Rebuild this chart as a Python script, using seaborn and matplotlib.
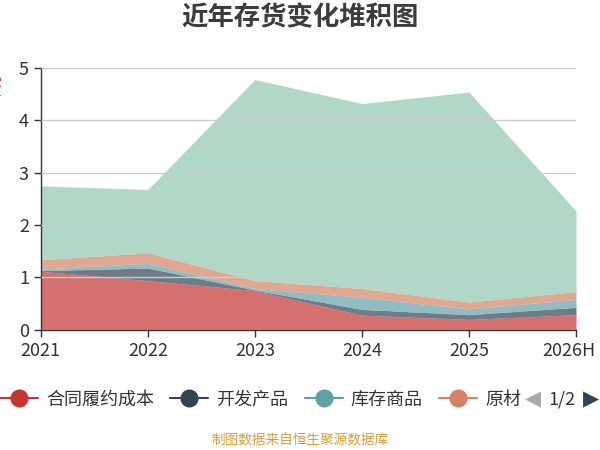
import seaborn as sns
import pandas as pd
import numpy as np
import matplotlib.pyplot as plt
from matplotlib.lines import Line2D
from matplotlib.transforms import ScaledTranslation

sns.set_theme(style="white")
plt.rcParams['font.family'] = ['Noto Sans CJK SC', 'DejaVu Sans']

# 数据（亿元），自下而上堆积
years = ["2021", "2022", "2023", "2024", "2025", "2026H"]
hetong = [1.12, 0.94, 0.75, 0.28, 0.20, 0.29]     # 合同履约成本
kaifa = [0.01, 0.24, 0.01, 0.11, 0.09, 0.14]      # 开发产品
kucun = [0.03, 0.09, 0.03, 0.23, 0.11, 0.15]      # 库存商品
yuancai = [0.18, 0.20, 0.15, 0.17, 0.13, 0.15]    # 原材料
zaichan = [1.41, 1.21, 3.84, 3.53, 4.01, 1.54]    # 在产品
names = ["合同履约成本", "开发产品", "库存商品", "原材料", "在产品"]

df = pd.DataFrame({"year": years, names[0]: hetong, names[1]: kaifa,
                   names[2]: kucun, names[3]: yuancai, names[4]: zaichan})
colors = sns.color_palette(["#c23531", "#2f4554", "#61a0a8", "#d48265", "#91c7ae"])

fig = plt.figure(figsize=(6, 4.5), dpi=100)
ax = fig.add_axes([0.068, 0.267, 0.892, 0.582])

x = np.arange(len(years))
ax.stackplot(x, *[df[n] for n in names], colors=colors, alpha=0.7, linewidth=0)

ax.set_xlim(0, len(years) - 1)
ax.set_ylim(0, 5)
ax.set_xticks(x)
ax.set_xticklabels(years)
ax.set_yticks(range(6))
ax.yaxis.grid(True, color="#cccccc", linewidth=1)
ax.set_axisbelow(False)
for s in ["top", "right"]:
    ax.spines[s].set_visible(False)
for s in ["left", "bottom"]:
    ax.spines[s].set_color("#333333")
    ax.spines[s].set_linewidth(1)
ax.tick_params(axis="both", direction="out", length=5, width=1, color="#333333",
               labelsize=13, labelcolor="#333333", bottom=True, left=True)
ax.set_xlabel("")
ax.set_ylabel("")
# 最后一个标签左移，避免被裁掉
last = ax.get_xticklabels()[-1]
last.set_transform(last.get_transform() + ScaledTranslation(-0.07, 0, fig.dpi_scale_trans))

fig.text(0.5, 0.96, "近年存货变化堆积图", ha="center", va="center",
         fontsize=19, fontweight="bold", color="#3c3c3c")
fig.text(-0.004, 0.81, "亿元", rotation=90, ha="center", va="center",
         fontsize=8, color="#c23531")

handles = [Line2D([0], [0], color=colors[i], linewidth=1.5, marker="o",
                  markersize=12, markerfacecolor=colors[i], markeredgecolor=colors[i])
           for i in range(4)]
labels = ["合同履约成本", "开发产品", "库存商品", "原材"]
fig.legend(handles, labels, loc="center left", bbox_to_anchor=(0.0, 0.112),
           ncol=4, frameon=False, fontsize=13, handlelength=2.1,
           handletextpad=0.45, columnspacing=0.9, labelcolor="#333333",
           borderpad=0, borderaxespad=0)

fig.text(0.888, 0.112, "◀", ha="center", va="center", fontsize=15,
         color="#aaaaaa", family=["DejaVu Sans"])
fig.text(0.936, 0.112, "1/2", ha="center", va="center", fontsize=13, color="#333333")
fig.text(0.985, 0.112, "▶", ha="center", va="center", fontsize=15,
         color="#2f4554", family=["DejaVu Sans"])

fig.text(0.5, 0.022, "制图数据来自恒生聚源数据库", ha="center", va="center",
         fontsize=9.8, color="#d4a03a")

fig.savefig("out.png", dpi=100)
